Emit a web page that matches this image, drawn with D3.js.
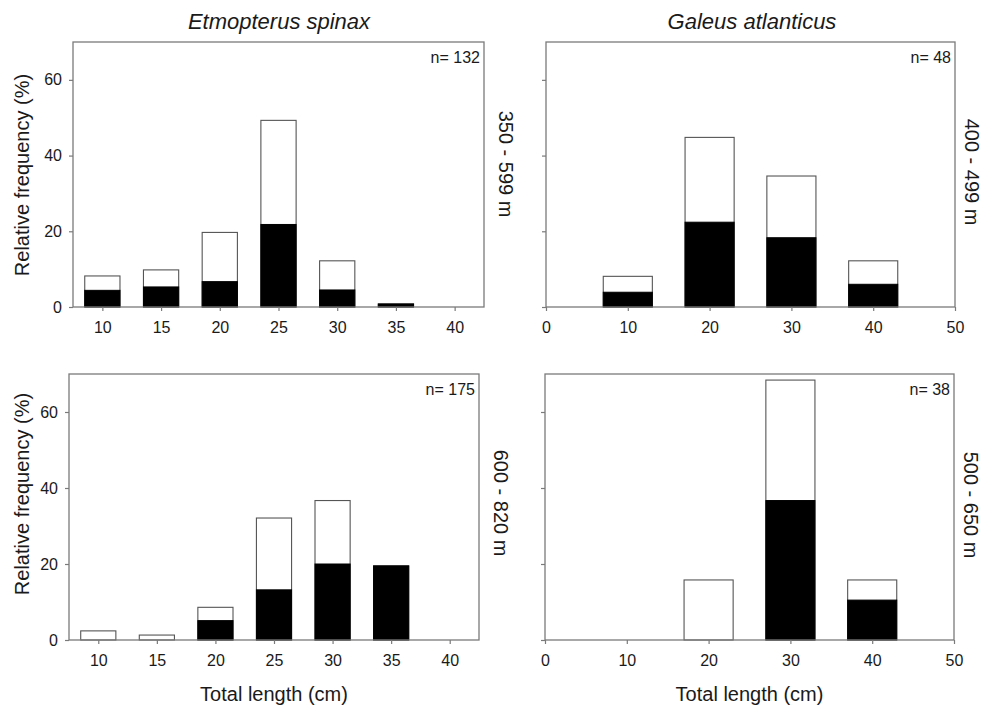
<!DOCTYPE html>
<html>
<head>
<meta charset="utf-8">
<script src="https://cdn.jsdelivr.net/npm/d3@7"></script>
<style>
  body { margin: 0; background: #fff; }
  text { font-family: "Liberation Sans", Arial, sans-serif; fill: #1a1a1a; }
</style>
</head>
<body>
<div id="chart"></div>
<script>
// Etmopterus spinax, length classes (cm)
var esLengths = [10, 15, 20, 25, 30, 35, 40];
var esShallowTotal = [8.2, 9.8, 19.7, 49.3, 12.2, 0.8, 0];
var esShallowDark  = [4.4, 5.3, 6.7, 21.8, 4.5, 0.8, 0];
var esDeepTotal    = [2.4, 1.3, 8.6, 32.1, 36.7, 19.5, 0];
var esDeepDark     = [0, 0, 5.1, 13.2, 20.0, 19.5, 0];

// Galeus atlanticus, length classes (cm)
var gaLengths = [10, 20, 30, 40];
var gaShallowTotal = [8.1, 44.8, 34.6, 12.2];
var gaShallowDark  = [3.9, 22.4, 18.3, 6.0];
var gaDeepTotal    = [0, 15.8, 68.4, 15.8];
var gaDeepDark     = [0, 0, 36.7, 10.5];

var yTicks = [0, 20, 40, 60];
var esTicks = [10, 15, 20, 25, 30, 35, 40];
var gaTicks = [0, 10, 20, 30, 40, 50];

var species = ["Etmopterus spinax", "Galeus atlanticus"];
var sampleSizes = ["n= 132", "n= 48", "n= 175", "n= 38"];
var depths = ["350 - 599 m", "400 - 499 m", "600 - 820 m", "500 - 650 m"];

var panels = [
  {left: 73, right: 484, top: 42, bottom: 307, lengths: esLengths, total: esShallowTotal, dark: esShallowDark,
   xDomain: [7.5, 42.5], xTicks: esTicks, barW: 3, n: sampleSizes[0], depth: depths[0], depthX: 499, depthY: 164,
   yLabels: true, yTitleY: 175, xTitle: false},
  {left: 546, right: 955, top: 42, bottom: 307, lengths: gaLengths, total: gaShallowTotal, dark: gaShallowDark,
   xDomain: [0, 50], xTicks: gaTicks, barW: 6, n: sampleSizes[1], depth: depths[1], depthX: 965, depthY: 172,
   yLabels: false, xTitle: false},
  {left: 69, right: 479, top: 374, bottom: 640, lengths: esLengths, total: esDeepTotal, dark: esDeepDark,
   xDomain: [7.5, 42.5], xTicks: esTicks, barW: 3, n: sampleSizes[2], depth: depths[2], depthX: 494, depthY: 503,
   yLabels: true, yTitleY: 494, xTitle: true},
  {left: 545, right: 954, top: 374, bottom: 640, lengths: gaLengths, total: gaDeepTotal, dark: gaDeepDark,
   xDomain: [0, 50], xTicks: gaTicks, barW: 6, n: sampleSizes[3], depth: depths[3], depthX: 964, depthY: 505,
   yLabels: false, xTitle: true}
];

var svg = d3.select("#chart").append("svg")
    .attr("width", 982)
    .attr("height", 708);

// species titles
svg.append("text").attr("x", 279).attr("y", 29).attr("text-anchor", "middle")
   .style("font-size", "22px").style("font-style", "italic").text(species[0]);
svg.append("text").attr("x", 752).attr("y", 29).attr("text-anchor", "middle")
   .style("font-size", "22px").style("font-style", "italic").text(species[1]);

panels.forEach(function(p) {
  var x = d3.scaleLinear().domain(p.xDomain).range([p.left, p.right]);
  var y = d3.scaleLinear().domain([0, 70]).range([p.bottom, p.top]);

  var g = svg.append("g");

  var rows = p.lengths.map(function(l, i) {
    return {len: l, total: p.total[i], dark: p.dark[i]};
  });

  // open (white) bars = total
  g.selectAll(".tot").data(rows.filter(function(d) { return d.total > 0; }))
    .enter().append("rect")
      .attr("x", function(d) { return x(d.len - p.barW / 2); })
      .attr("width", function(d) { return x(d.len + p.barW / 2) - x(d.len - p.barW / 2); })
      .attr("y", function(d) { return y(d.total); })
      .attr("height", function(d) { return y(0) - y(d.total); })
      .style("fill", "#fff")
      .style("stroke", "#555")
      .style("stroke-width", 1.1);

  // solid (black) part
  g.selectAll(".dk").data(rows.filter(function(d) { return d.dark > 0; }))
    .enter().append("rect")
      .attr("x", function(d) { return x(d.len - p.barW / 2); })
      .attr("width", function(d) { return x(d.len + p.barW / 2) - x(d.len - p.barW / 2); })
      .attr("y", function(d) { return y(d.dark); })
      .attr("height", function(d) { return y(0) - y(d.dark); })
      .style("fill", "#000")
      .style("stroke", "#000")
      .style("stroke-width", 1);

  // frame
  g.append("rect")
    .attr("x", p.left).attr("y", p.top)
    .attr("width", p.right - p.left).attr("height", p.bottom - p.top)
    .style("fill", "none").style("stroke", "#7a7a7a").style("stroke-width", 1.3);

  var xAxis = g.append("g")
    .attr("transform", "translate(0," + p.bottom + ")")
    .call(d3.axisBottom(x).tickValues(p.xTicks).tickSize(4).tickPadding(11).tickSizeOuter(0));
  xAxis.select(".domain").remove();
  xAxis.selectAll("line").style("stroke", "#7a7a7a").style("stroke-width", 1.2);
  xAxis.selectAll("text").style("font-size", "16px").style("fill", "#1a1a1a");

  var yAxis = g.append("g")
    .attr("transform", "translate(" + p.left + ",0)")
    .call(d3.axisLeft(y).tickValues(yTicks).tickSize(4).tickPadding(7).tickSizeOuter(0)
      .tickFormat(p.yLabels ? d3.format("d") : function() { return ""; }));
  yAxis.select(".domain").remove();
  yAxis.selectAll("line").style("stroke", "#7a7a7a").style("stroke-width", 1.2);
  yAxis.selectAll("text").style("font-size", "16px").style("fill", "#1a1a1a");

  // sample size
  g.append("text")
    .attr("x", p.right - 4).attr("y", p.top + 21)
    .attr("text-anchor", "end")
    .style("font-size", "16px")
    .text(p.n);

  // depth label on right
  g.append("text")
    .attr("transform", "translate(" + p.depthX + "," + p.depthY + ") rotate(90)")
    .attr("text-anchor", "middle")
    .style("font-size", "20px")
    .text(p.depth);

  if (p.yLabels) {
    g.append("text")
      .attr("transform", "translate(29," + p.yTitleY + ") rotate(-90)")
      .attr("text-anchor", "middle")
      .style("font-size", "20px")
      .text("Relative frequency (%)");
  }

  if (p.xTitle) {
    g.append("text")
      .attr("x", (p.left + p.right) / 2)
      .attr("y", 701)
      .attr("text-anchor", "middle")
      .style("font-size", "20px")
      .text("Total length (cm)");
  }
});
</script>
</body>
</html>
